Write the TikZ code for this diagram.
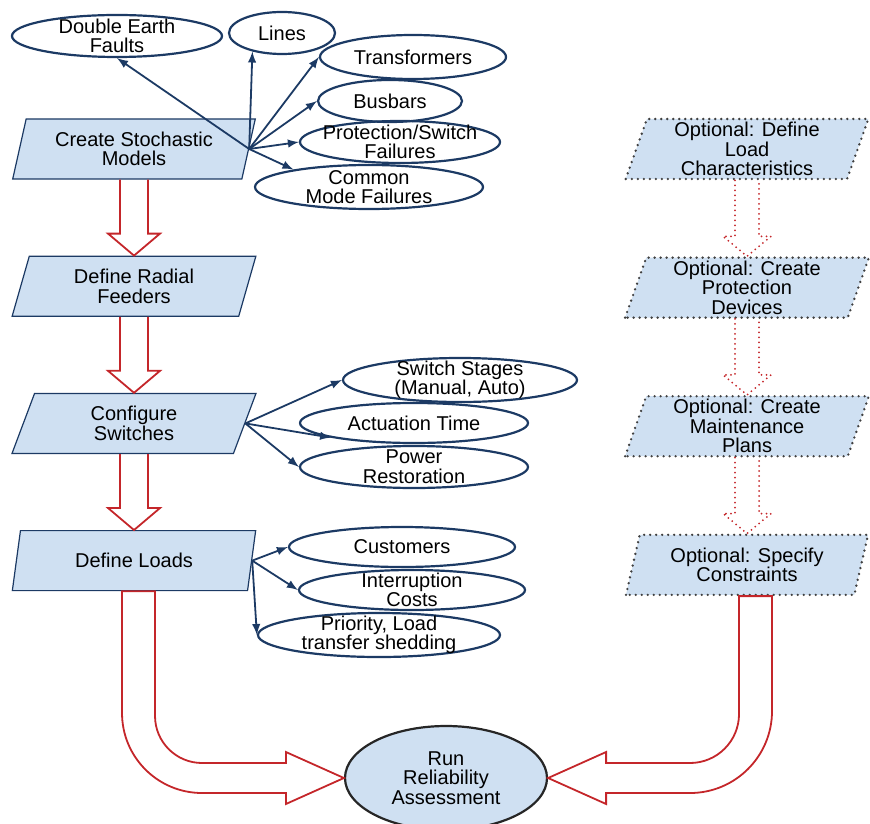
\documentclass[tikz,border=0pt]{standalone}
\usepackage{fontspec}
\setmainfont{Liberation Sans}
\usetikzlibrary{positioning,calc,shapes.geometric}
\definecolor{boxblue}{RGB}{207,224,242}
\definecolor{navy}{RGB}{28,58,100}
\definecolor{arrred}{RGB}{196,38,42}

\begin{document}
\begin{tikzpicture}[
  x=0.5pt, y=-0.5pt,
  node distance=38pt,
  font=\fontsize{10}{9.8}\selectfont,
  stepbox/.style={trapezium, trapezium left angle=74, trapezium right angle=106,
    trapezium stretches=true, draw=navy, line width=0.6pt, fill=boxblue,
    minimum width=122pt, minimum height=30pt, inner sep=0pt, align=center},
  optbox/.style={stepbox, draw=black!75, line width=1.3pt, line cap=round,
    dash pattern=on 0pt off 3pt},
  item/.style={ellipse, draw=navy, line width=1.1pt, inner sep=0pt},
  txt/.style={label={[align=center]center:#1}},
  link/.style={navy, line width=0.9pt, -latex},
  hollow/.style={draw=arrred, line width=0.9pt},
  dothollow/.style={draw=arrred, line width=1pt, line cap=round,
    dash pattern=on 0pt off 2.5pt}
  ]

   \useasboundingbox (0,0) rectangle (870,823);

   % main steps
   \node (crt) [stepbox] at (134,149) {Create Stochastic\\Models};
   \node (rad) [stepbox, below=of crt] {Define Radial\\Feeders};
   \node (cfg) [stepbox, below=of rad] {Configure\\Switches};
   \node (lds) [stepbox, below=of cfg] {Define Loads};

   % optional steps
   \node (ld) [optbox] at (747,149) {Optional: Define\\Load\\Characteristics};
   \node (pd) [optbox, below=of ld] {Optional: Create\\Protection\\Devices};
   \node (mp) [optbox, below=of pd] {Optional: Create\\Maintenance\\Plans};
   \node (sc) [optbox, below=of mp] {Optional: Specify\\Constraints};

   \node (run) [ellipse, draw=black!85, line width=1.1pt, fill=boxblue, inner sep=0pt,
     minimum width=101pt, minimum height=52pt, align=center] at (446,778)
     {Run\\Reliability\\Assessment};

   % stochastic models
   \node (de) [item, minimum width=105pt, minimum height=21pt, txt={Double Earth\\Faults}] at (117,36) {};
   \node (li) [item, minimum width=53pt, minimum height=21pt, txt={Lines}] at (282,33) {};
   \node (tr) [item, minimum width=93pt, minimum height=22pt, txt={Transformers}] at (413,57) {};
   \node (bb) [item, minimum width=72pt, minimum height=21pt, txt={Busbars}] at (390,101) {};
   \node (ps) [item, minimum width=100pt, minimum height=21pt, txt={Protection/Switch\\Failures}] at (400,142) {};
   \node (cm) [item, minimum width=114pt, minimum height=22pt, txt={Common\\Mode Failures}] at (369,187) {};
   \foreach \t in {de.south, li.212, tr.west, bb.west, ps.west, cm.167}
     \draw [link] (crt.east) -- (\t);

   % switches
   \node (ss) [item, minimum width=117pt, minimum height=22pt, txt={Switch Stages\\(Manual, Auto)}] at (460,380) {};
   \node (at) [item, minimum width=114pt, minimum height=20pt, txt={Actuation Time}] at (414,423) {};
   \node (pr) [item, minimum width=114pt, minimum height=21pt, txt={Power\\Restoration}] at (414,467) {};
   \foreach \t in {ss.west, at.190, pr.west}
     \draw [link] (cfg.east) -- (\t);

   % loads
   \node (cu) [item, minimum width=113pt, minimum height=20pt, txt={Customers}] at (402,547) {};
   \node (ic) [item, minimum width=113pt, minimum height=20pt, txt={Interruption\\Costs}] at (412,590) {};
   \node (pl) [item, minimum width=121pt, minimum height=22pt, txt={Priority, Load\\transfer shedding}] at (379,635) {};
   \foreach \t in {cu.west, ic.west, pl.west}
     \draw [link] (lds.east) -- (\t);

   % block arrows
   \foreach \a/\b in {crt/rad, rad/cfg, cfg/lds}
     \draw [hollow] ($(\a.south)+(-14,0)$) -- ($(\b.north)+(-14,-22)$) -- ($(\b.north)+(-26,-22)$)
       -- (\b.north) -- ($(\b.north)+(26,-22)$) -- ($(\b.north)+(14,-22)$) -- ($(\a.south)+(14,0)$);
   \foreach \a/\b in {ld/pd, pd/mp, mp/sc}
     \draw [dothollow] ($(\a.south)+(-12,0)$) -- ($(\b.north)+(-12,-20)$) -- ($(\b.north)+(-24,-20)$)
       -- (\b.north) -- ($(\b.north)+(24,-20)$) -- ($(\b.north)+(12,-20)$) -- ($(\a.south)+(12,0)$);

   \coordinate (lo) at ($(lds.south)+(-12,0)$);
   \coordinate (li2) at ($(lds.south)+(21,0)$);
   \coordinate (lh) at ($(run.west)+(-58,0)$);
   \draw [hollow] (lo) -- ($(lo |- lh)+(0,-65)$) arc[start angle=180, end angle=90, radius=80]
     -- ($(lh)+(0,15)$) -- ($(lh)+(0,26)$) -- (run.west) -- ($(lh)+(0,-26)$) -- ($(lh)+(0,-15)$)
     -- ($(li2 |- lh)+(47,-15)$) arc[start angle=90, end angle=180, radius=47] -- (li2) -- cycle;

   \coordinate (ro) at ($(sc.south)+(25,0)$);
   \coordinate (ri) at ($(sc.south)+(-8,0)$);
   \coordinate (rh) at ($(run.east)+(58,0)$);
   \draw [hollow] (ro) -- ($(ro |- rh)+(0,-67)$) arc[start angle=0, end angle=90, radius=82]
     -- ($(rh)+(0,15)$) -- ($(rh)+(0,26)$) -- (run.east) -- ($(rh)+(0,-26)$) -- ($(rh)+(0,-15)$)
     -- ($(ri |- rh)+(-49,-15)$) arc[start angle=90, end angle=0, radius=49] -- (ri) -- cycle;

\end{tikzpicture}
\end{document}
